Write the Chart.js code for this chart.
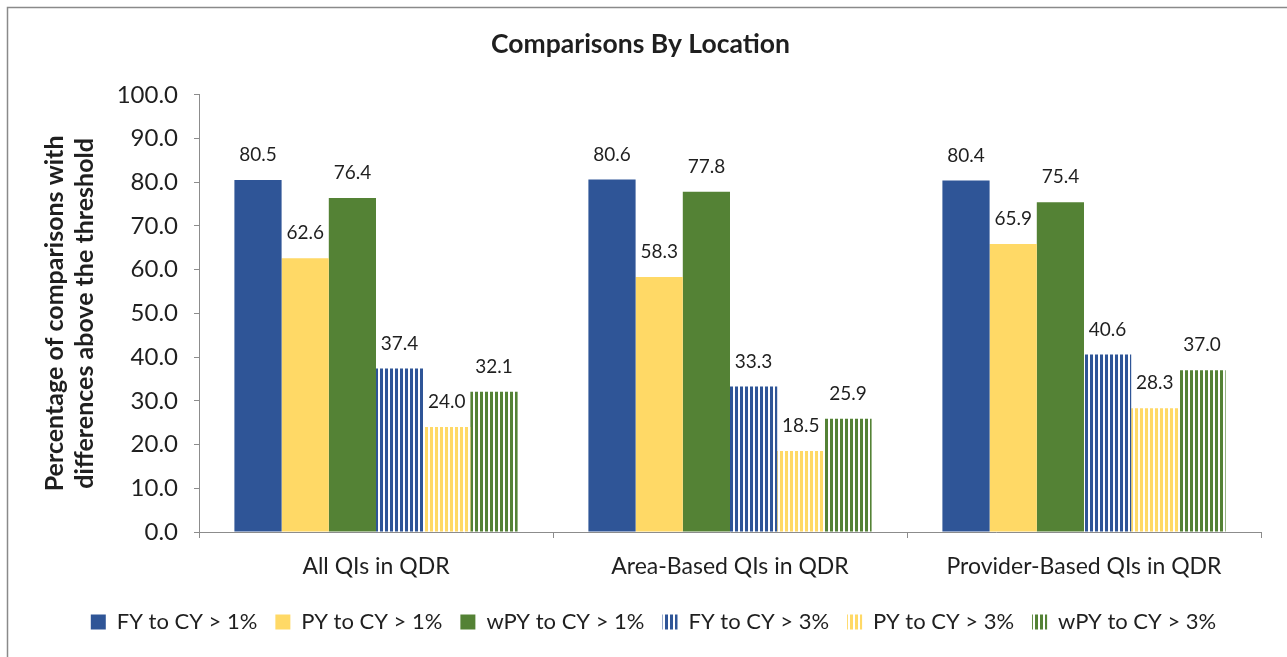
<!DOCTYPE html>
<html>
<head>
<meta charset="utf-8">
<script src="https://cdn.jsdelivr.net/npm/chart.js@4.4.1/dist/chart.umd.min.js"></script>
<style>
  html, body { margin: 0; padding: 0; background: #fff; }
  #wrap { width: 1287px; height: 657px; position: relative; }
</style>
</head>
<body>
<div id="wrap"><canvas id="chart" width="1287" height="657"></canvas></div>
<script>
// Categories and series values
const categories = ['All QIs in QDR', 'Area-Based QIs in QDR', 'Provider-Based QIs in QDR'];
const seriesNames = ['FY to CY > 1%', 'PY to CY > 1%', 'wPY to CY > 1%', 'FY to CY > 3%', 'PY to CY > 3%', 'wPY to CY > 3%'];
const fyOver1 = [80.5, 80.6, 80.4];
const pyOver1 = [62.6, 58.3, 65.9];
const wpyOver1 = [76.4, 77.8, 75.4];
const fyOver3 = [37.4, 33.3, 40.6];
const pyOver3 = [24.0, 18.5, 28.3];
const wpyOver3 = [32.1, 25.9, 37.0];
const yTickMin = 0, yTickMax = 100, yTickStep = 10;

const BLUE = '#2F5597', YELLOW = '#FFD966', GREEN = '#548235';
const FONT = 'Lato, "Noto Sans", sans-serif';
const TEXT = '#1f1f1f';
const AXIS = '#8c8c8c';

// Vertical stripe fill for the "> 3%" series
function stripes(color) {
  const c = document.createElement('canvas');
  c.width = 5; c.height = 4;
  const g = c.getContext('2d');
  g.fillStyle = '#ffffff'; g.fillRect(0, 0, 5, 4);
  g.fillStyle = color; g.fillRect(0, 0, 3, 4);
  return g.createPattern(c, 'repeat');
}

const values = [fyOver1, pyOver1, wpyOver1, fyOver3, pyOver3, wpyOver3];
const fills = [BLUE, YELLOW, GREEN, stripes(BLUE), stripes(YELLOW), stripes(GREEN)];

const datasets = values.map((v, i) => ({
  label: seriesNames[i],
  data: v,
  backgroundColor: fills[i],
  borderWidth: 0,
  categoryPercentage: 0.8,
  barPercentage: 1.0
}));

// White page with a thin frame
const framePlugin = {
  id: 'frame',
  beforeDraw(chart) {
    const ctx = chart.ctx;
    ctx.save();
    ctx.fillStyle = '#ffffff';
    ctx.fillRect(0, 0, chart.width, chart.height);
    ctx.strokeStyle = '#8a8a8a';
    ctx.lineWidth = 1.5;
    ctx.strokeRect(7.5, 7.5, chart.width + 20, chart.height + 20);
    ctx.restore();
  }
};

// Nudge the legend row a little to the right of the page centre
const legendShift = {
  id: 'legendShift',
  afterLayout(chart) {
    if (chart.legend) {
      chart.legend.left += 13;
      chart.legend.right += 13;
    }
  }
};

// Value labels above each bar
const valueLabels = {
  id: 'valueLabels',
  afterDatasetsDraw(chart) {
    const ctx = chart.ctx;
    ctx.save();
    ctx.font = '19px ' + FONT;
    ctx.fillStyle = TEXT;
    ctx.textAlign = 'center';
    ctx.textBaseline = 'middle';
    chart.data.datasets.forEach((ds, di) => {
      const meta = chart.getDatasetMeta(di);
      meta.data.forEach((bar, j) => {
        ctx.fillText(ds.data[j].toFixed(1), bar.x, bar.y - 25);
      });
    });
    ctx.restore();
  }
};

new Chart(document.getElementById('chart'), {
  type: 'bar',
  data: { labels: categories, datasets },
  plugins: [framePlugin, legendShift, valueLabels],
  options: {
    responsive: false,
    animation: false,
    devicePixelRatio: 1,
    layout: { padding: { left: 20, right: 26, top: 0, bottom: 14 } },
    plugins: {
      title: {
        display: true,
        text: 'Comparisons By Location',
        color: TEXT,
        font: { family: FONT, size: 26.5, weight: 'bold', lineHeight: 1.2 },
        padding: { top: 29, bottom: 34 }
      },
      legend: {
        position: 'bottom',
        labels: {
          boxWidth: 15,
          boxHeight: 15,
          padding: 18,
          color: TEXT,
          font: { family: FONT, size: 22 }
        }
      },
      tooltip: { enabled: false }
    },
    scales: {
      x: {
        grid: { offset: true, drawOnChartArea: false, color: AXIS, tickLength: 6 },
        border: { color: AXIS, width: 1 },
        ticks: { color: TEXT, font: { family: FONT, size: 23 }, padding: 15, maxRotation: 0 },
        afterFit(scale) { scale.height = 61; }
      },
      y: {
        min: yTickMin,
        max: yTickMax,
        ticks: {
          stepSize: yTickStep,
          color: TEXT,
          font: { family: FONT, size: 24 },
          padding: 16,
          callback: v => Number(v).toFixed(1)
        },
        grid: { drawOnChartArea: false, color: AXIS, tickLength: 5 },
        border: { color: AXIS, width: 1 },
        title: {
          display: true,
          text: ['Percentage of comparisons with', 'differences above the threshold'],
          color: TEXT,
          font: { family: FONT, size: 25, weight: 'bold', lineHeight: '30px' },
          padding: { top: 20, bottom: 0 }
        },
        afterFit(scale) { scale.width = 179; }
      }
    }
  }
});
</script>
</body>
</html>
